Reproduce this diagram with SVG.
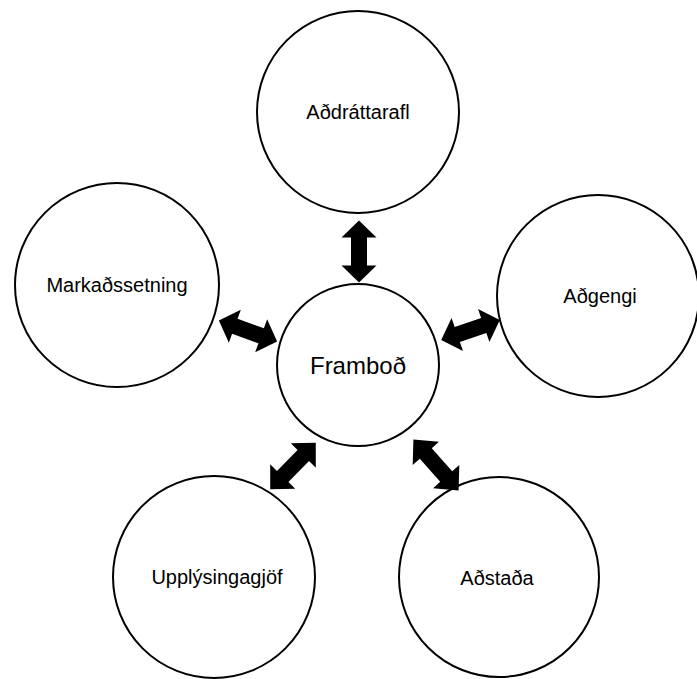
<svg xmlns="http://www.w3.org/2000/svg" xmlns:xlink="http://www.w3.org/1999/xlink" width="697" height="679" viewBox="0 0 697 679">
<style>
.c{fill:#fff;stroke:#000;stroke-width:2}
.t{font-family:"Liberation Sans",Arial,sans-serif;font-size:20px;fill:#000;text-anchor:middle}
.big{font-size:24px}
.a{fill:#000}
</style>
<defs>
<path id="dbl" d="M-31,0 L-14,-17.5 L-14,-8 L14,-8 L14,-17.5 L31,0 L14,17.5 L14,8 L-14,8 L-14,17.5 Z"/>
</defs>
<rect width="697" height="679" fill="#fff"/>
<g id="top"><circle class="c" cx="358" cy="112" r="101"/><text class="t" x="358" y="119">Aðdráttarafl</text></g>
<g id="left"><circle class="c" cx="117" cy="285" r="102"/><text class="t" x="117" y="292">Markaðssetning</text></g>
<g id="right"><circle class="c" cx="598" cy="296" r="101"/><text class="t" x="600" y="303">Aðgengi</text></g>
<g id="bl"><circle class="c" cx="214" cy="577" r="101"/><text class="t" x="217" y="584">Upplýsingagjöf</text></g>
<g id="br"><circle class="c" cx="499" cy="577" r="100"/><text class="t" x="497" y="585">Aðstaða</text></g>
<g id="center"><circle class="c" cx="358" cy="365" r="81"/><text class="t big" x="358" y="374">Framboð</text></g>
<g id="connectors" class="a">
<use xlink:href="#dbl" transform="translate(359,251.5) rotate(90)"/>
<use xlink:href="#dbl" transform="translate(248,331) rotate(20)"/>
<use xlink:href="#dbl" transform="translate(470.5,330) rotate(-19)"/>
<use xlink:href="#dbl" transform="translate(293,466) rotate(-45.6) scale(1.05,1)"/>
<use xlink:href="#dbl" transform="translate(436,465) rotate(48.5) scale(1.1,1)"/>
</g>
</svg>
